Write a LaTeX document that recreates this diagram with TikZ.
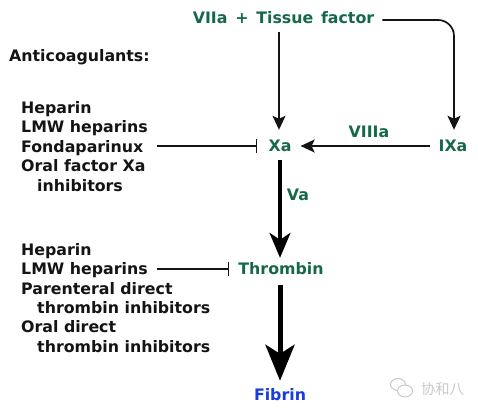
\documentclass[tikz,border=0pt]{standalone}
\usepackage{xcolor}
\usepackage{fontspec}
\setmainfont{DejaVu Sans}
\newfontfamily\cjkfont{Noto Sans CJK SC}
\usetikzlibrary{arrows.meta, positioning}
\definecolor{mygreen}{RGB}{22,105,72}
\definecolor{myblue}{RGB}{25,60,225}
\definecolor{mydark}{RGB}{20,20,20}
\definecolor{mymark}{RGB}{200,200,200}
\tikzset{
  drug/.style={anchor=west, inner sep=0pt, text height=14pt, text depth=3pt, text=mydark, font=\fontsize{15.8}{18}\selectfont\bfseries},
  factor/.style={inner sep=0pt, text height=14pt, text depth=3pt, text=mygreen, font=\fontsize{15.8}{18}\selectfont\bfseries},
  arrowthin/.style={-{Stealth[length=14pt, width=13pt, inset=3pt]}, line width=1.7pt, color=mydark},
  arrowmid/.style={-{Stealth[length=25pt, width=21pt, inset=7pt]}, line width=3.2pt, color=black},
  arrowbig/.style={-{Stealth[length=36pt, width=29pt, inset=9pt]}, line width=5pt, color=black},
  blockline/.style={-{Bar[width=14pt, line width=1.2pt]}, line width=1.2pt, color=mydark}
}
\begin{document}
\begin{tikzpicture}[x=1pt, y=-1pt]
  \useasboundingbox (0,0) rectangle (478,412);
  % Cascade
  \node[factor] (seven) at (283.5,18) {\spaceskip=7.8pt VIIa + Tissue factor};
  \node[factor] (xa) at (280,146) {Xa};
  \node[factor] (nine) at (453,146) {IXa};
  \node[factor] (eight) at (369,132) {VIIIa};
  \node[factor] (va) at (298,195) {Va};
  \node[factor] (thrombin) at (281,269) {Thrombin};
  \node[factor, text=myblue] (fibrin) at (280,395) {Fibrin};

  % Drugs acting on Xa
  \node[drug] (title) at (9,56) {Anticoagulants:};
  \node[drug] (hepa) at (21,108) {Heparin};
  \node[drug] (lmwa) at (21,127) {LMW heparins};
  \node[drug] (fonda) at (21,147) {Fondaparinux};
  \node[drug] (orala) at (21,166) {Oral factor Xa};
  \node[drug] (inha) at (37,186) {inhibitors};

  % Drugs acting on thrombin
  \node[drug] (hepb) at (21,250) {Heparin};
  \node[drug] (lmwb) at (21,269) {LMW heparins};
  \node[drug] (parb) at (21,289) {Parenteral direct};
  \node[drug] (thrb) at (37,308) {thrombin inhibitors};
  \node[drug] (oralb) at (21,327) {Oral direct};
  \node[drug] (thrc) at (37,347) {thrombin inhibitors};

  % Arrows
  \draw[arrowthin] ([xshift=-4.5pt, yshift=-5.5pt]seven.south) -- ([xshift=-1pt, yshift=7.5pt]xa.north);
  \draw[arrowthin, rounded corners=16pt] ([xshift=8pt, yshift=-2pt]seven.east) -| ([xshift=1pt, yshift=7.5pt]nine.north);
  \draw[arrowthin] ([xshift=-8pt]nine.west) -- ([xshift=9pt]xa.east);
  \draw[arrowmid] ([yshift=-5.5pt]xa.south) -- ([xshift=-1pt, yshift=2.5pt]thrombin.north);
  \draw[arrowbig] ([xshift=-1pt, yshift=-7.5pt]thrombin.south) -- ([yshift=5.5pt]fibrin.north);

  % Inhibition
  \draw[blockline, shorten <=14pt, shorten >=11pt] (fonda.east |- xa.west) -- (xa.west);
  \draw[blockline, shorten <=9pt, shorten >=9pt] (lmwb.east) -- (thrombin.west);

  % Watermark
  \draw[mymark, line width=1pt, fill=white] (398,384.5) ellipse (7.5pt and 6pt);
  \draw[mymark, line width=1pt, fill=white] (405,391) ellipse (7.5pt and 6pt);
  \node[inner sep=0pt, text=mymark, font=\fontsize{14.3}{16}\selectfont\cjkfont] (mark) at (442.5,389) {协和八};
\end{tikzpicture}
\end{document}
